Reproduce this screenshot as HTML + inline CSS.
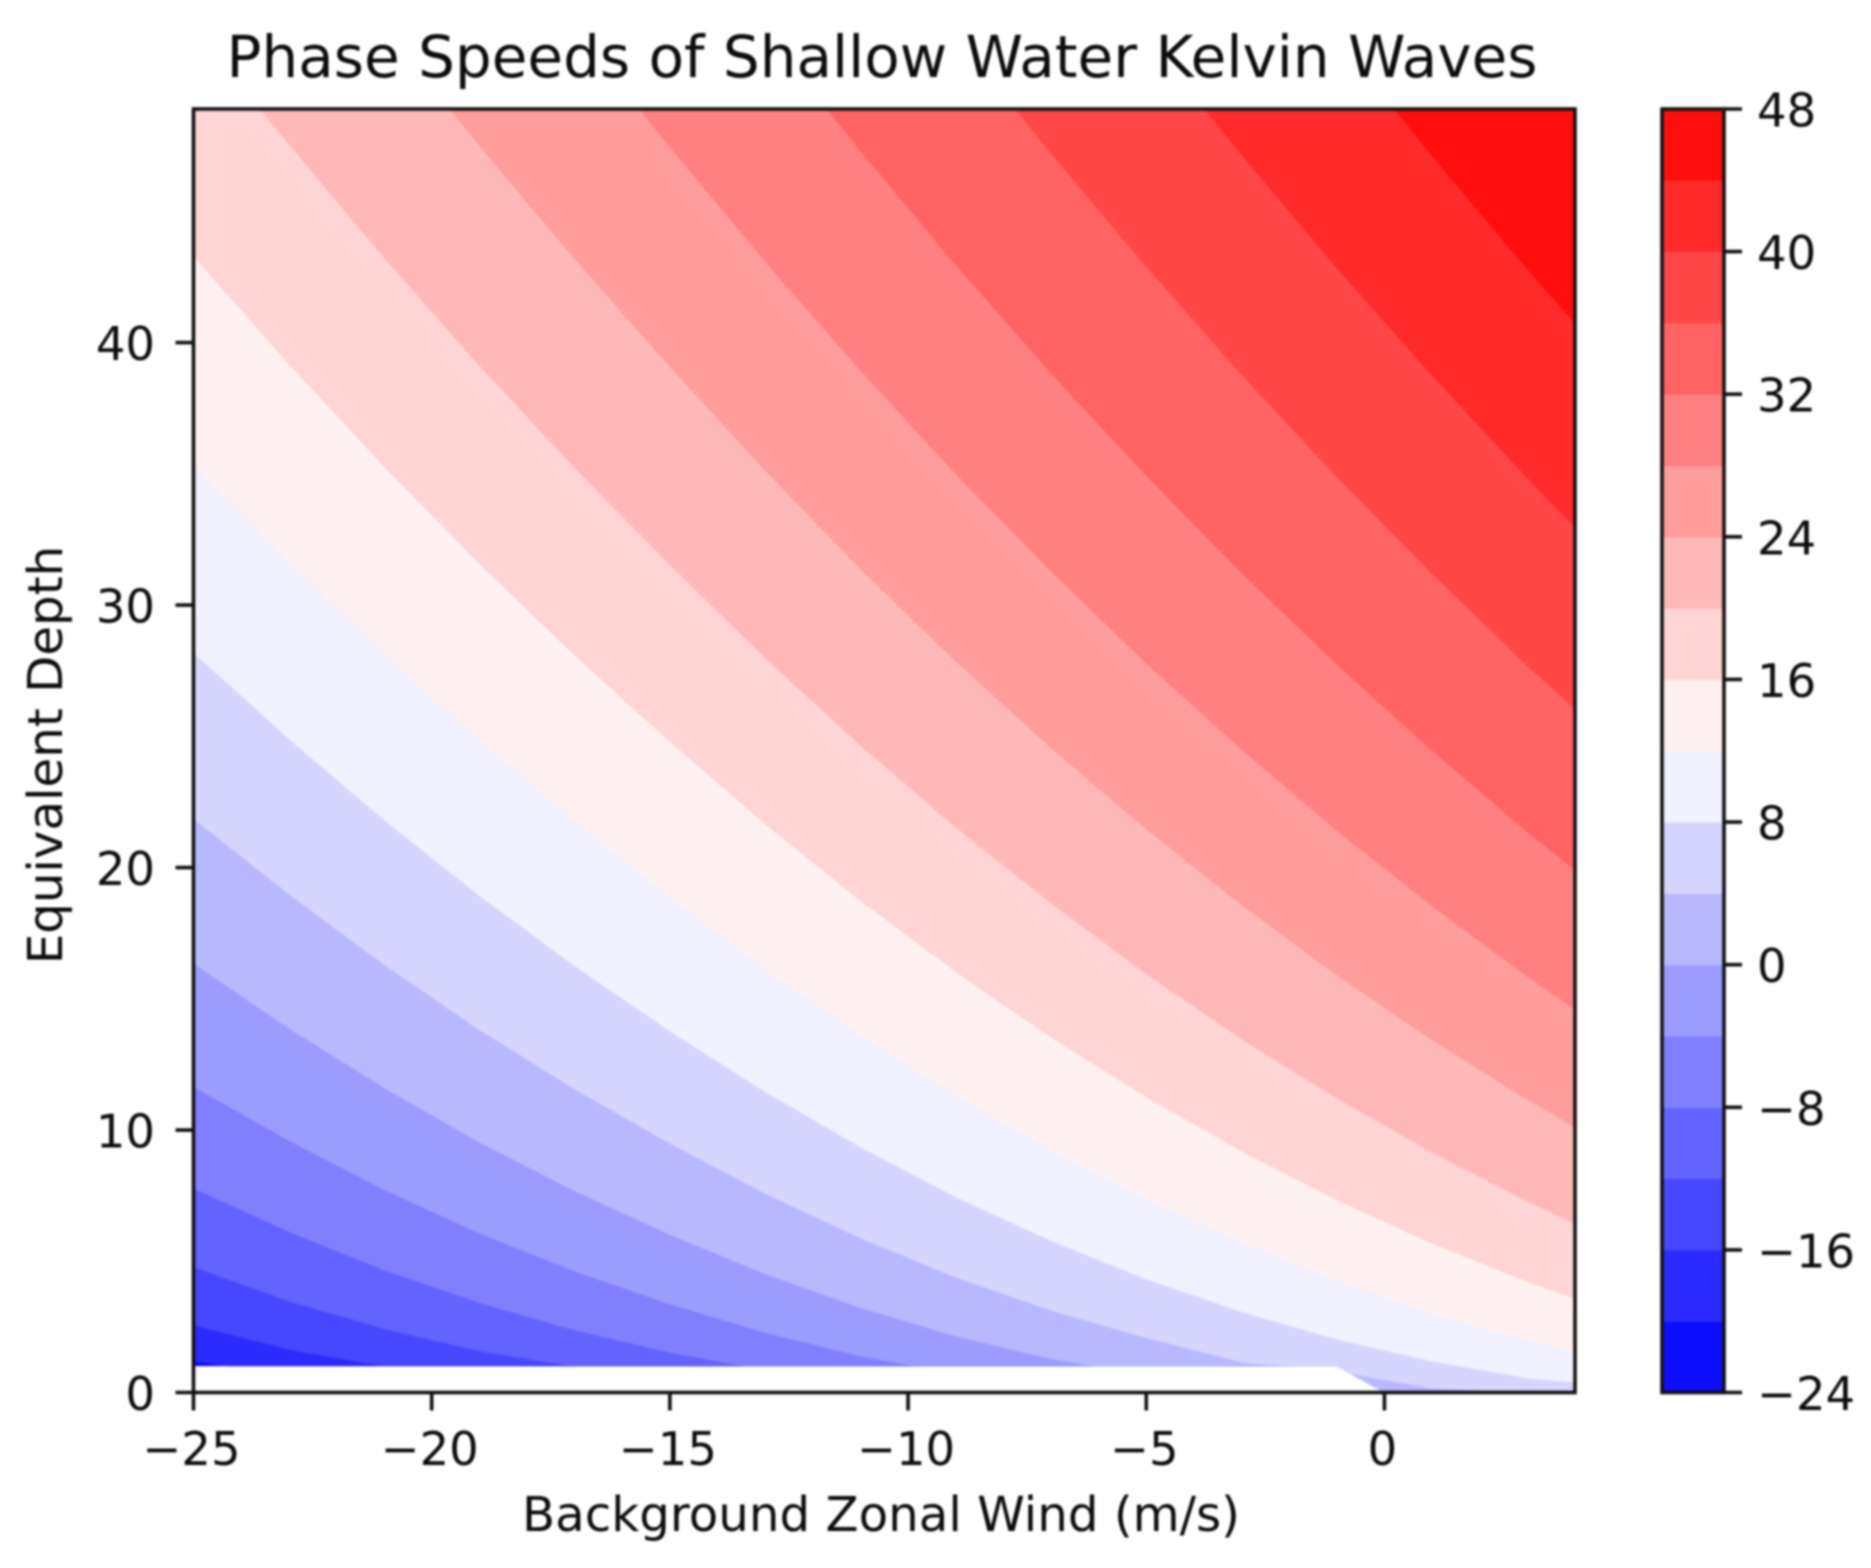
<!DOCTYPE html>
<html lang="en">
<head>
<meta charset="utf-8">
<title>Phase Speeds of Shallow Water Kelvin Waves</title>
<style>
  html, body { margin: 0; padding: 0; background: #fff; }
  #chart { display: block; width: 1871px; height: 1568px; filter: blur(1px); }
  text { font-family: "DejaVu Sans", "Liberation Sans", sans-serif; fill: #0c0c0c; }
</style>
</head>
<body>
<svg id="chart" xmlns="http://www.w3.org/2000/svg" width="1871" height="1568" viewBox="0 0 1871 1568">
  <rect x="0" y="0" width="1871" height="1568" fill="#ffffff"/>
  <text id="chart-title" x="882" y="77" font-size="58" text-anchor="middle">Phase Speeds of Shallow Water Kelvin Waves</text>
  <text id="x-axis-title" x="881" y="1531" font-size="48.3" text-anchor="middle">Background Zonal Wind (m/s)</text>
  <text id="y-axis-title" x="0" y="0" font-size="48.3" text-anchor="middle" transform="translate(62 755) rotate(-90)">Equivalent Depth</text>
  <defs>
    <clipPath id="domain-clip"><polygon id="domain-shape" points=""/></clipPath>
  </defs>
  <g id="plot-area" clip-path="url(#domain-clip)"></g>
  <g id="x-axis"></g>
  <g id="y-axis"></g>
  <g id="colorbar"></g>
</svg>
<script>
// Contour levels (m/s) and the colorbar ticks
const levels = [-24, -20, -16, -12, -8, -4, 0, 4, 8, 12, 16, 20, 24, 28, 32, 36, 40, 44, 48];
const colorbarTicks = [-24, -16, -8, 0, 8, 16, 24, 32, 40, 48];
const colorbarTickLabels = ["\u221224", "\u221216", "\u22128", "0", "8", "16", "24", "32", "40", "48"];

// Axis ticks
const xTicks = [-25, -20, -15, -10, -5, 0];
const xTickLabels = ["\u221225", "\u221220", "\u221215", "\u221210", "\u22125", "0"];
const yTicks = [0, 10, 20, 30, 40];
const yTickLabels = ["0", "10", "20", "30", "40"];

// Data limits and the boundary of the region that holds data (white strip below depth 1)
const windLimits = [-25, 4];
const depthLimits = [0, 48.9];
const domainWind = [-25, -1, 0, 4, 4, -25];
const domainDepth = [1, 1, 0, 0, 48.9, 48.9];

// Wind values at which each contour's depth was read
const windSamples = [-25, -23, -21, -19, -17, -15, -13, -11, -9, -7, -5, -3, -1, 1, 3, 4];

// Equivalent depth of each contour at windSamples
const depthAtMinus20 = [1.2, 0.6, 0.3, 0, 0, 0, 0, 0, 0, 0, 0, 0, 0, 0, 0, 0];
const depthAtMinus16 = [2.56, 1.63, 0.99, 0.55, 0.3, 0, 0, 0, 0, 0, 0, 0, 0, 0, 0, 0];
const depthAtMinus12 = [4.78, 3.47, 2.42, 1.57, 0.98, 0.5, 0.23, 0, 0, 0, 0, 0, 0, 0, 0, 0];
const depthAtMinus8 = [7.77, 6.12, 4.66, 3.41, 2.37, 1.52, 0.84, 0.36, 0.1, 0, 0, 0, 0, 0, 0, 0];
const depthAtMinus4 = [11.65, 9.59, 7.72, 6.06, 4.61, 3.36, 2.27, 1.38, 0.71, 0.26, 0.03, 0, 0, 0, 0, 0];
const depthAt0 = [16.34, 13.87, 11.6, 9.53, 7.67, 6.01, 4.51, 3.22, 2.14, 1.28, 0.64, 0.2, 0.1, 0, 0, 0];
const depthAt4 = [21.85, 18.98, 16.29, 13.81, 11.55, 9.48, 7.57, 5.87, 4.38, 3.12, 2.07, 1.15, 0.8, 0.15, 0, 0];
const depthAt8 = [28.18, 24.9, 21.8, 18.92, 16.24, 13.76, 11.45, 9.34, 7.44, 5.77, 4.31, 3.06, 2.02, 1.18, 0.54, 0.38];
const depthAt12 = [35.32, 31.63, 28.13, 24.84, 21.75, 18.87, 16.14, 13.62, 11.32, 9.24, 7.37, 5.71, 4.26, 3.02, 1.97, 1.53];
const depthAt16 = [43.28, 39.18, 35.27, 31.57, 28.08, 24.79, 21.65, 18.73, 16.01, 13.52, 11.25, 9.18, 7.32, 5.67, 4.21, 3.57];
const depthAt20 = [52.06, 47.55, 43.23, 39.12, 35.22, 31.52, 27.98, 24.65, 21.52, 18.63, 15.94, 13.46, 11.2, 9.14, 7.27, 6.43];
const depthAt24 = [61.65, 56.73, 52.01, 47.49, 43.18, 39.07, 35.12, 31.38, 27.85, 24.55, 21.45, 18.57, 15.89, 13.42, 11.15, 10.1];
const depthAt28 = [72.06, 66.73, 61.6, 56.67, 51.96, 47.44, 43.08, 38.93, 34.99, 31.28, 27.78, 24.49, 21.4, 18.53, 15.84, 14.59];
const depthAt32 = [83.28, 77.55, 72.01, 66.67, 61.55, 56.62, 51.86, 47.3, 42.95, 38.83, 34.92, 31.22, 27.73, 24.45, 21.35, 19.9];
const depthAt36 = [95.32, 89.18, 83.23, 77.49, 71.96, 66.62, 61.45, 56.48, 51.73, 47.2, 42.88, 38.77, 34.87, 31.18, 27.68, 26.02];
const depthAt40 = [108.18, 101.63, 95.27, 89.12, 83.18, 77.44, 71.86, 66.48, 61.32, 56.38, 51.66, 47.14, 42.83, 38.73, 34.82, 32.96];
const depthAt44 = [121.85, 114.88, 108.13, 101.57, 95.22, 89.07, 83.08, 77.3, 71.73, 66.38, 61.25, 56.32, 51.61, 47.1, 42.78, 40.72];

// Contour for each interior level, in order from levels[1] upward
const contourDepths = [depthAtMinus20, depthAtMinus16, depthAtMinus12, depthAtMinus8, depthAtMinus4, depthAt0, depthAt4, depthAt8, depthAt12, depthAt16, depthAt20, depthAt24, depthAt28, depthAt32, depthAt36, depthAt40, depthAt44];

const SVG_NS = "http://www.w3.org/2000/svg";
const plotBox = { left: 193.5, right: 1575, top: 109, bottom: 1392.5 };
const barBox = { left: 1662, right: 1724, top: 109, bottom: 1392.5 };
const INK = "#111111";
const TICK_FONT = 46.5;

function xScale(wind) {
  return plotBox.left + (wind - windLimits[0]) / (windLimits[1] - windLimits[0]) * (plotBox.right - plotBox.left);
}
function yScale(depth) {
  return plotBox.bottom - (depth - depthLimits[0]) / (depthLimits[1] - depthLimits[0]) * (plotBox.bottom - plotBox.top);
}
function barScale(value) {
  const lo = levels[0], hi = levels[levels.length - 1];
  return barBox.bottom - (value - lo) / (hi - lo) * (barBox.bottom - barBox.top);
}
// matplotlib "bwr" colormap
function bwr(value) {
  const lo = levels[0], hi = levels[levels.length - 1];
  const f = (value - lo) / (hi - lo);
  if (f <= 0.5) {
    const c = Math.round(255 * 2 * f);
    return "rgb(" + c + "," + c + ",255)";
  }
  const c = Math.round(255 * (2 - 2 * f));
  return "rgb(255," + c + "," + c + ")";
}
function make(tag, parent, attrs) {
  const el = document.createElementNS(SVG_NS, tag);
  for (const key in attrs) el.setAttribute(key, attrs[key]);
  parent.appendChild(el);
  return el;
}
function pts(list) {
  return list.map(function (p) { return p[0].toFixed(2) + "," + p[1].toFixed(2); }).join(" ");
}

// Domain clip
document.getElementById("domain-shape").setAttribute("points", pts(domainWind.map(function (w, i) {
  return [xScale(w), yScale(domainDepth[i])];
})));

// Filled contour bands: painted bottom-up, each covering everything above its lower contour
const plotArea = document.getElementById("plot-area");
const baseBand = make("polygon", plotArea, {
  points: pts(domainWind.map(function (w, i) { return [xScale(w), yScale(domainDepth[i])]; })),
  fill: bwr((levels[0] + levels[1]) / 2)
});



contourDepths.forEach(function (depths, i) {
  const lower = levels[i + 1];
  const upper = levels[i + 2];
  const ceiling = Math.max(depthLimits[1], Math.max.apply(null, depths)) + 1;
  const outline = windSamples.map(function (w, j) { return [xScale(w), yScale(depths[j])]; });
  outline.push([xScale(windSamples[windSamples.length - 1]), yScale(ceiling)]);
  outline.push([xScale(windSamples[0]), yScale(ceiling)]);
  const band = make("polygon", plotArea, { points: pts(outline), fill: bwr((lower + upper) / 2) });
  
  
  band.setAttribute('data-level', String(lower));
});

// Plot frame
const frame = make("rect", document.getElementById("chart"), {
  x: plotBox.left, y: plotBox.top,
  width: plotBox.right - plotBox.left, height: plotBox.bottom - plotBox.top,
  fill: "none", stroke: INK, "stroke-width": 3.6
});



// X axis
const xAxis = document.getElementById("x-axis");
xTicks.forEach(function (t, i) {
  const x = xScale(t);
  const mark = make("line", xAxis, { x1: x, x2: x, y1: plotBox.bottom, y2: plotBox.bottom + 18, stroke: INK, "stroke-width": 3.6 });
  
  
  const label = make("text", xAxis, { x: x - 2, y: 1465, "font-size": TICK_FONT, "text-anchor": "middle" });
  label.textContent = xTickLabels[i];
  
  
});

// Y axis
const yAxis = document.getElementById("y-axis");
yTicks.forEach(function (t, i) {
  const y = yScale(t);
  const mark = make("line", yAxis, { x1: plotBox.left, x2: plotBox.left - 18, y1: y, y2: y, stroke: INK, "stroke-width": 3.6 });
  
  
  const label = make("text", yAxis, { x: 155, y: y + 17.5, "font-size": TICK_FONT, "text-anchor": "end" });
  label.textContent = yTickLabels[i];
  
  
});

// Colorbar
const colorbar = document.getElementById("colorbar");
levels.slice(0, -1).forEach(function (lower, i) {
  const upper = levels[i + 1];
  const seg = make("rect", colorbar, {
    x: barBox.left, width: barBox.right - barBox.left,
    y: barScale(upper), height: barScale(lower) - barScale(upper) + 0.5,
    fill: bwr((lower + upper) / 2)
  });
  
  
});
const barFrame = make("rect", colorbar, {
  x: barBox.left, y: barBox.top,
  width: barBox.right - barBox.left, height: barBox.bottom - barBox.top,
  fill: "none", stroke: INK, "stroke-width": 3.6
});


colorbarTicks.forEach(function (t, i) {
  const y = barScale(t);
  const mark = make("line", colorbar, { x1: barBox.right, x2: barBox.right + 18, y1: y, y2: y, stroke: INK, "stroke-width": 3.6 });
  
  
  const label = make("text", colorbar, { x: 1757, y: y + 17.5, "font-size": TICK_FONT });
  label.textContent = colorbarTickLabels[i];
  
  
});
</script>
</body>
</html>
